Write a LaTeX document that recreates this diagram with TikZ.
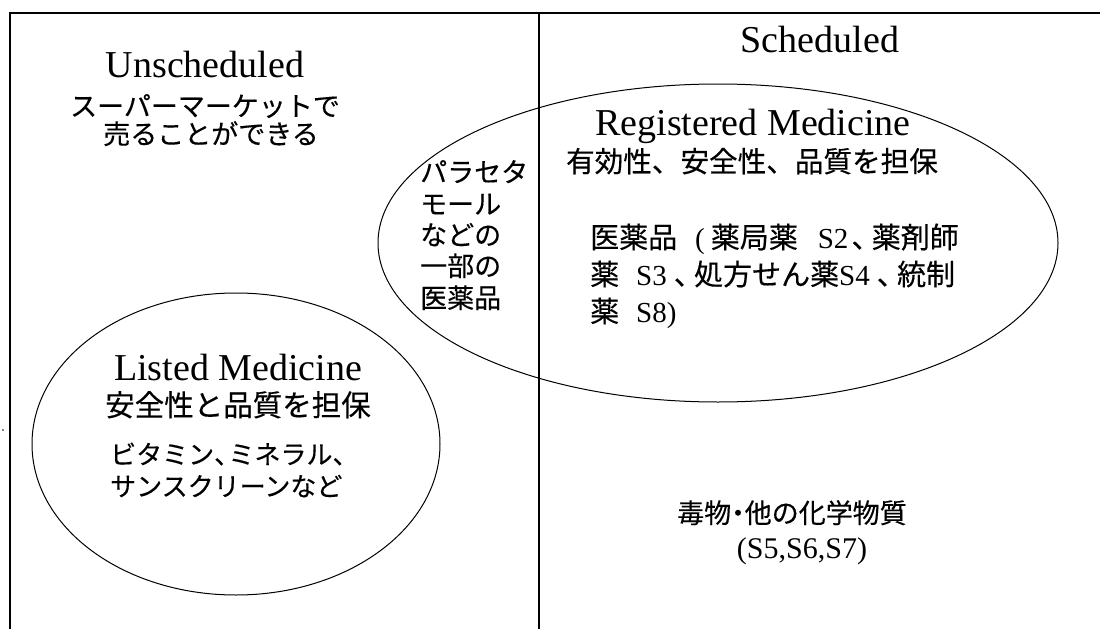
\documentclass[tikz,border=0pt]{standalone}
\usepackage{fontspec}
\setmainfont{Liberation Serif}
\newfontfamily\jp[FakeBold=0.3]{Noto Sans CJK JP}
\usetikzlibrary{shapes.geometric}
\newcommand\halfcomma{\makebox[0.55em][l]{、}}
\newcommand\midcomma{\makebox[0.7em][l]{、}}
\begin{document}
\begin{tikzpicture}[x=1pt,y=-1pt,
  frameline/.style={line width=1.3pt},
  oval/.style={draw, ellipse, line width=1pt, inner sep=0pt},
  head/.style={font=\fontsize{38}{40}\selectfont, inner sep=0pt},
  jtext/.style={font=\jp\fontsize{#1}{#1}\selectfont, inner sep=0pt},
]
\useasboundingbox (0,0) rectangle (1104,629);
\fill[white] (0,0) rectangle (1104,629);
% frame
\coordinate (tl) at (10,13);
\coordinate (tr) at (1100,13);
\coordinate (bl) at (10,629);
\coordinate (dt) at (539,13);
\coordinate (db) at (539,629);
\draw[frameline] (bl) -- (tl) -- (tr);
\draw[frameline] (dt) -- (db);
\fill (3,430) circle (0.8);
% ellipses
\node[oval, minimum width=680pt, minimum height=318pt] (reg) at (718,243) {};
\node[oval, minimum width=408pt, minimum height=302pt] (lst) at (236,444) {};
% headings
\node[head, anchor=base] (sch) at (820,52) {Scheduled};
\node[head, anchor=base] (unsch) at (205,77) {Unscheduled};
\node[jtext=27, anchor=base] (super) at (205,116) {スーパーマーケットで};
\node[jtext=27, anchor=base] (sell) at (211,144) {売ることができる};
% registered
\node[head, anchor=base] (regt) at (753,135) {Registered Medicine};
\node[jtext=28.6, anchor=base] (regs) at (752,172) {有効性、安全性、品質を担保};
\node[jtext=29, anchor=base west] (r1) at (590,248) {医薬品\hspace{18pt}{\rmfamily (}\hspace{6pt}薬局薬\hspace{20pt}{\rmfamily S2}\hspace{3pt}\midcomma 薬剤師};
\node[jtext=29, anchor=base west] (r2) at (590,285) {薬\hspace{17pt}{\rmfamily S3}\hspace{7pt}\midcomma 処方せん薬{\rmfamily S4}\hspace{7pt}\midcomma 統制};
\node[jtext=29, anchor=base west] (r3) at (590,322) {薬\hspace{17pt}{\rmfamily S8)}};
% paracetamol
\node[jtext=27, anchor=base west] (p1) at (420,182) {パラセタ};
\node[jtext=27, anchor=base west] (p2) at (420,214) {モール};
\node[jtext=27, anchor=base west] (p3) at (420,245) {などの};
\node[jtext=27, anchor=base west] (p4) at (420,276) {一部の};
\node[jtext=27, anchor=base west] (p5) at (420,308) {医薬品};
% listed
\node[head, anchor=base] (lstt) at (238,380) {Listed Medicine};
\node[jtext=29.5, anchor=base] (lsts) at (238,416) {安全性と品質を担保};
\node[jtext=26, anchor=base west] (vit) at (110,464) {ビタミン\halfcomma ミネラル\halfcomma};
\node[jtext=26, anchor=base west] (sun) at (110,496) {サンスクリーンなど};
% poisons
\node[jtext=27, anchor=base] (poi) at (792,523) {毒物\makebox[0.5em][c]{・}他の化学物質};
\node[font=\fontsize{30}{30}\selectfont, inner sep=0pt, anchor=base] (sc) at (802,558) {(S5,S6,S7)};
\end{tikzpicture}
\end{document}
